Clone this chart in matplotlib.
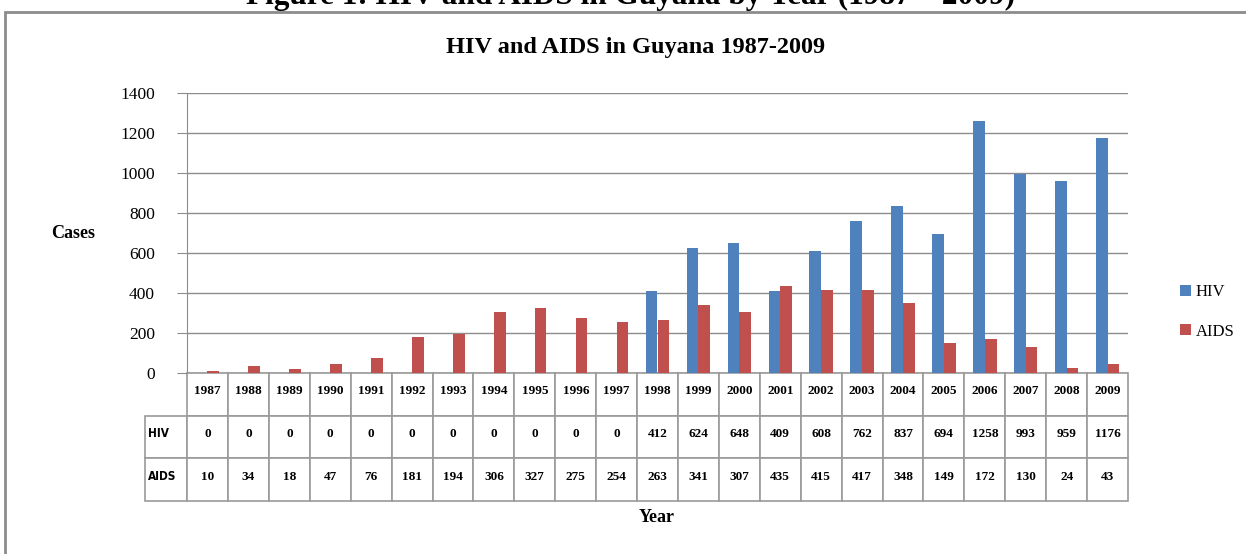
import numpy as np
import matplotlib
matplotlib.use('Agg')
from matplotlib import pyplot as plt
from matplotlib.patches import Rectangle

years = [str(y) for y in range(1987, 2010)]
hiv = [0, 0, 0, 0, 0, 0, 0, 0, 0, 0, 0, 412, 624, 648, 409, 608, 762, 837, 694, 1258, 993, 959, 1176]
aids = [10, 34, 18, 47, 76, 181, 194, 306, 327, 275, 254, 263, 341, 307, 435, 415, 417, 348, 149, 172, 130, 24, 43]
yticks = [0, 200, 400, 600, 800, 1000, 1200, 1400]

blue = '#4F81BD'
red = '#C0504D'
grey = '#8C8C8C'
serif = 'Liberation Serif'

W, H = 1246, 554
fig = plt.figure(figsize=(W / 100, H / 100), dpi=100)
ax = fig.add_axes([187 / W, 1 - 373 / H, 941 / W, 280 / H])

# outer frame (cut off at top/right like the page scan)
fig.add_artist(Rectangle((5 / W, -0.1), 1.2, 1 - 12 / H + 0.1, fill=False,
                         ec=grey, lw=2, transform=fig.transFigure))
fig.text(0.506, 1 - 4 / H, 'Figure 1: HIV and AIDS in Guyana by Year (1987 \u2013 2009)',
         ha='center', va='baseline', fontsize=22.5, fontweight='bold', family=serif)

x = np.arange(len(years))
bw = 0.286
ax.bar(x - bw / 2, hiv, width=bw, color=blue, label='HIV', zorder=3)
ax.bar(x + bw / 2, aids, width=bw, color=red, label='AIDS', zorder=3)

ax.set_xlim(-0.5, len(years) - 0.5)
ax.set_ylim(0, 1400)
ax.set_yticks(yticks)
ax.set_xticks([])
ax.yaxis.grid(True, color=grey, lw=1)
ax.set_axisbelow(True)
for s in ['top', 'right', 'bottom']:
    ax.spines[s].set_visible(False)
ax.spines['left'].set_color(grey)
ax.tick_params(axis='y', length=7, color=grey, labelsize=12.5, pad=16)
for t in ax.get_yticklabels():
    t.set_family(serif)

# data table under the chart
cells = [['HIV'] + [str(v) for v in hiv], ['AIDS'] + [str(v) for v in aids]]
tab = ax.table(cellText=cells, colLabels=[''] + years,
               colWidths=[1.03] + [1] * len(years), cellLoc='center',
               bbox=[-42 / 941, -128 / 280, 983 / 941, 128 / 280])
tab.auto_set_font_size(False)
tab.set_fontsize(9.5)
for (r, c), cell in tab.get_celld().items():
    cell.set_edgecolor('#9A9A9A')
    cell.set_linewidth(1.2)
    txt = cell.get_text()
    txt.set_fontweight('bold')
    txt.set_family(serif)
    txt.set_verticalalignment('baseline')
    if c == 0:
        txt.set_horizontalalignment('left')
        cell.PAD = 0.06
        txt.set_family('DejaVu Sans')
        txt.set_fontsize(8.5)
        txt.set_stretch('condensed')
    if r == 0 and c == 0:
        cell.visible_edges = ''

fig.text(73 / W, 1 - 233 / H, 'Cases', ha='center', va='center',
         fontsize=13, fontweight='bold', family=serif)
fig.text(657 / W, 1 - 517 / H, 'Year', ha='center', va='center',
         fontsize=13, fontweight='bold', family=serif)
fig.text(636 / W, 1 - 47 / H, 'HIV and AIDS in Guyana 1987-2009', ha='center', va='center',
         fontsize=17.5, fontweight='bold', family=serif)

leg = ax.legend(loc='center left', bbox_to_anchor=(1165 / W, 1 - 312 / H),
                bbox_transform=fig.transFigure, frameon=False,
                handlelength=0.65, handleheight=0.65, handletextpad=0.3, labelspacing=1.4,
                prop={'family': serif, 'size': 12})

fig.savefig('out.png', dpi=100)
